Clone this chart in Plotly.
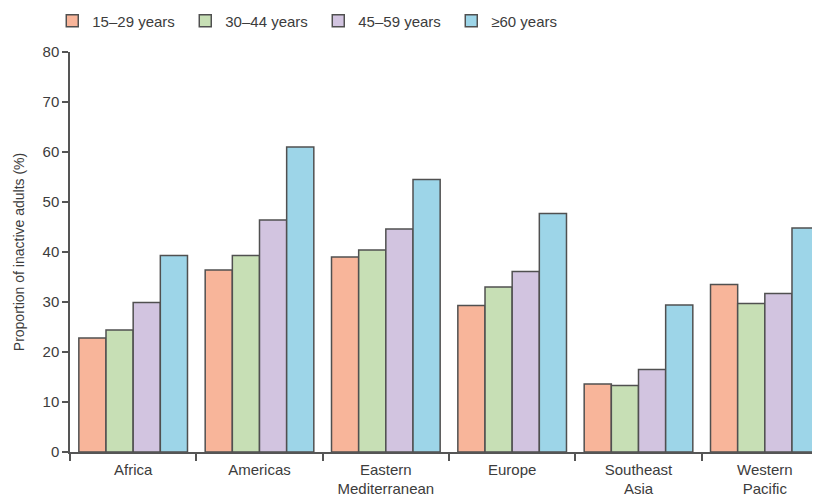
import plotly.graph_objects as go

regions = ["Africa", "Americas", "Eastern<br>Mediterranean", "Europe", "Southeast<br>Asia", "Western<br>Pacific"]
age_groups = ["15–29 years", "30–44 years", "45–59 years", "≥60 years"]
vals_15_29 = [22.8, 36.4, 39.0, 29.3, 13.6, 33.5]
vals_30_44 = [24.4, 39.3, 40.4, 33.0, 13.3, 29.7]
vals_45_59 = [29.9, 46.4, 44.6, 36.1, 16.5, 31.7]
vals_60p = [39.3, 61.0, 54.5, 47.7, 29.4, 44.8]
series = [vals_15_29, vals_30_44, vals_45_59, vals_60p]
colors = ["#F8B59A", "#C7DFB5", "#D2C4E0", "#9DD5E8"]

FONT = "Liberation Sans Narrow, Arial Narrow, Liberation Sans, sans-serif"
TXT = "#3c3c3c"

fig = go.Figure()
for name, vals, c in zip(age_groups, series, colors):
    fig.add_trace(go.Bar(
        x=regions, y=vals, name=name,
        marker=dict(color=c, line=dict(color="#505050", width=1.5)),
    ))

# page body has an 8px default margin; compensate so the plot lands where the reference has it
fig.update_layout(
    width=820, height=501,
    barmode="group", bargap=0.14, bargroupgap=0,
    plot_bgcolor="white", paper_bgcolor="white",
    margin=dict(l=62, r=0, t=44, b=57, autoexpand=False),
    font=dict(family=FONT, size=14, color=TXT),
    legend=dict(orientation="h", x=0.054, xanchor="left",
                xref="container", y=0.974, yanchor="middle", yref="container",
                font=dict(size=15, color=TXT),
                entrywidth=88, itemwidth=30, traceorder="normal"),
    xaxis=dict(
        type="category", range=[-0.5, 5.5],
        showline=True, linecolor="#555555", linewidth=1.5,
        ticks="outside", tickson="boundaries", ticklen=7, tickcolor="#555555", tickwidth=1.5,
        tickfont=dict(size=15, color=TXT), showgrid=False, ticklabelstandoff=3,
    ),
    yaxis=dict(
        range=[0, 80], dtick=10,
        showline=True, linecolor="#555555", linewidth=1.5,
        ticks="outside", ticklen=6, tickcolor="#555555", tickwidth=1.5,
        tickfont=dict(size=15, color=TXT), showgrid=False, zeroline=False,
        title=dict(text="Proportion of inactive adults (%)", font=dict(size=14, color=TXT), standoff=15),
    ),
)

fig.write_html("out.html")
